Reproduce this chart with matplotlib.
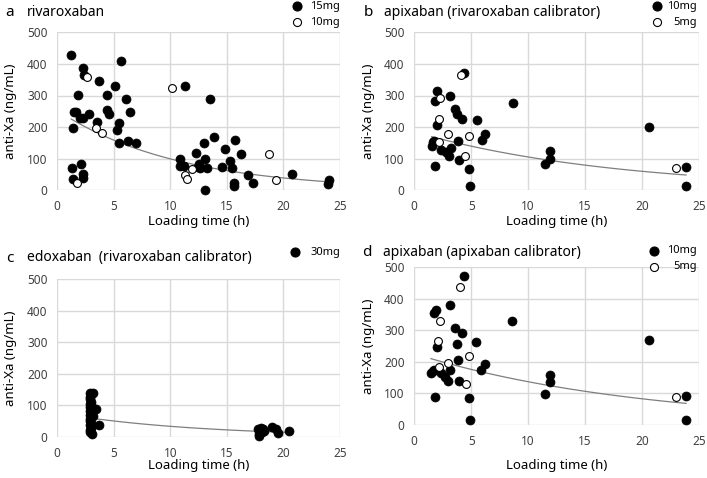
import numpy as np
import matplotlib
matplotlib.use("Agg")
import matplotlib.pyplot as plt
from matplotlib.lines import Line2D

plt.rcParams['font.family'] = ['Noto Sans', 'DejaVu Sans']

# panel a: rivaroxaban
a15_x = [1.24, 2.27, 2.36, 1.83, 1.5, 1.62, 1.36, 2.0, 2.3, 2.83, 3.54, 3.69, 4.36, 4.4, 4.54, 5.13,
         5.6, 6.04, 6.4, 5.43, 5.31, 5.43, 6.22, 6.96, 1.27, 1.36, 2.06, 2.24, 2.3, 11.26, 13.5, 10.85,
         10.82, 11.2, 12.3, 12.5, 12.4, 12.6, 13.0, 13.1, 13.24, 13.83, 13.1, 14.8, 14.6, 15.24, 15.42,
         15.7, 15.6, 15.6, 16.24, 16.83, 17.3, 20.72, 23.94, 24.0]
a15_y = [427, 387, 365, 302, 248, 248, 198, 228, 228, 240, 215, 345, 302, 255, 240, 330,
         410, 289, 248, 214, 191, 149, 156, 151, 71, 36, 84, 53, 40, 330, 290, 100,
         77, 78, 118, 84, 73, 72, 151, 100, 70, 170, 2, 132, 74, 94, 69,
         160, 22, 13, 116, 48, 22, 53, 21, 33]
a10_x = [2.6, 1.75, 3.45, 3.98, 10.1, 11.25, 11.45, 11.95, 18.75, 19.35]
a10_y = [357, 22, 198, 180, 325, 47, 35, 66, 116, 32]
a_trend = (253, 0.0934)  # y = A*exp(-k*t)

# panel b: apixaban (rivaroxaban calibrator)
b10_x = [1.52, 1.61, 1.7, 1.81, 1.81, 2.02, 2.02, 2.31, 2.75, 3.02, 3.1, 3.22, 3.57, 3.72, 3.84,
         3.9, 4.19, 4.36, 4.8, 4.89, 5.47, 5.91, 6.2, 8.64, 11.5, 11.94, 11.94, 20.64, 23.86, 23.86]
b10_y = [141, 152, 156, 78, 283, 314, 207, 127, 120, 108, 300, 135, 256, 240, 155,
         95, 225, 370, 66, 15, 224, 158, 179, 275, 82, 124, 99, 200, 75, 13]
b5_x = [2.26, 2.14, 2.2, 2.93, 4.1, 4.83, 4.48, 23.0]
b5_y = [291, 226, 153, 177, 365, 172, 110, 69]
b_trend = (185, 0.0562)

# panel c: edoxaban (rivaroxaban calibrator)
c30_x = [2.85, 2.95, 3.2, 2.9, 2.85, 3.0, 2.9, 2.95, 2.85, 3.0, 2.9, 2.95, 2.85, 3.0, 2.9, 2.85,
         2.95, 2.9, 3.0, 2.85, 2.9, 3.1, 3.42, 3.71, 3.15, 17.8, 17.9, 18.0, 18.1, 18.2, 17.85,
         18.3, 17.75, 18.95, 19.35, 19.5, 20.45]
c30_y = [138, 135, 138, 128, 120, 112, 105, 100, 95, 88, 82, 76, 70, 64, 58, 50,
         44, 38, 30, 22, 15, 10, 89, 39, 66, 8, 20, 30, 15, 25, 3,
         20, 26, 32, 24, 14, 19]
c_trend = (76, 0.081)

# panel d: apixaban (apixaban calibrator)
d10_x = [1.46, 1.61, 1.7, 1.81, 1.76, 1.93, 2.02, 2.31, 2.72, 2.96, 3.1, 3.13, 3.57, 3.78, 3.84,
         3.9, 4.16, 4.33, 4.8, 4.92, 5.44, 5.85, 6.21, 8.6, 11.45, 11.89, 11.89, 20.6, 23.86, 23.86]
d10_y = [164, 172, 175, 90, 354, 363, 247, 164, 153, 139, 380, 175, 307, 256, 206,
         140, 290, 471, 84, 16, 264, 175, 193, 328, 99, 157, 136, 269, 93, 17]
d5_x = [2.25, 2.1, 2.2, 2.93, 3.98, 4.83, 4.5, 22.98]
d5_y = [330, 266, 184, 197, 437, 218, 130, 88]
d_trend = (226, 0.0501)

W, H = 707, 478
fig = plt.figure(figsize=(W / 100, H / 100), dpi=100)

GRID = '#d9d9d9'
TICK = '#404040'


def make_axes(x0, x1, ytop, ybot, xlab_px, ylab_px):
    w, h = x1 - x0, ybot - ytop
    ax = fig.add_axes([x0 / W, 1 - ybot / H, w / W, h / H])
    ax.set_xlim(0, 25)
    ax.set_ylim(0, 500)
    ax.set_xticks(range(0, 26, 5))
    ax.set_yticks(range(0, 501, 100))
    ax.grid(True, color=GRID, lw=1)
    ax.set_axisbelow(True)
    for s in ax.spines.values():
        s.set_visible(False)
    ax.tick_params(length=0, labelsize=8.5, labelcolor=TICK, pad=7)
    ax.set_xlabel('Loading time (h)', fontsize=9.5, va='center')
    ax.set_ylabel('anti-Xa (ng/mL)', fontsize=9.5, va='center')
    # label centres given in pixels
    ax.xaxis.set_label_coords(0.5, (ybot - xlab_px) / h)
    ax.yaxis.set_label_coords((ylab_px - x0) / w, 0.5)
    return ax


def filled(ax, x, y):
    ax.scatter(x, y, s=42, c='black', edgecolors='black', linewidths=0.5, zorder=3, clip_on=False)


def hollow(ax, x, y):
    ax.scatter(x, y, s=32, c='white', edgecolors='black', linewidths=0.8, zorder=4, clip_on=False)


def trend(ax, xs, params):
    A, k = params
    t = np.linspace(min(xs), max(xs), 100)
    ax.plot(t, A * np.exp(-k * t), color='#7f7f7f', lw=0.9, zorder=2)


def legend_entry(xm, y, is_filled, label, xr):
    fig.add_artist(Line2D([xm / W], [1 - y / H], marker='o', ms=6.5 if is_filled else 5.8,
                          mfc='black' if is_filled else 'white', mec='black', mew=0.8,
                          ls='none', transform=fig.transFigure))
    fig.text(xr / W, 1 - y / H, label, ha='right', va='center', fontsize=8)


def panel_title(xl, xt, y, letter, text):
    fig.text(xl / W, 1 - y / H, letter, fontsize=11, fontweight='bold', va='center')
    fig.text(xt / W, 1 - y / H, text, fontsize=10, va='center')


# a
ax = make_axes(57.3, 340, 32.3, 190.3, 222, 11)
trend(ax, a15_x + a10_x, a_trend)
filled(ax, a15_x, a15_y)
hollow(ax, a10_x, a10_y)
panel_title(5, 27, 12, 'a', 'rivaroxaban')
legend_entry(297, 6, True, '15mg', 340)
legend_entry(297, 22, False, '10mg', 340)

# b
ax = make_axes(414.3, 699, 32.3, 190.3, 222, 368)
trend(ax, b10_x + b5_x, b_trend)
filled(ax, b10_x, b10_y)
hollow(ax, b5_x, b5_y)
panel_title(364, 384, 13, 'b', 'apixaban (rivaroxaban calibrator)')
legend_entry(657, 6, True, '10mg', 697)
legend_entry(657, 22, False, '5mg', 697)

# c
ax = make_axes(57.3, 340, 279, 437, 466, 11)
trend(ax, c30_x, c_trend)
filled(ax, c30_x, c30_y)
panel_title(6, 27, 258, 'c', 'edoxaban  (rivaroxaban calibrator)')
legend_entry(295, 252, True, '30mg', 340)

# d
ax = make_axes(414.3, 699, 267, 425, 466, 368)
trend(ax, d10_x + d5_x, d_trend)
filled(ax, d10_x, d10_y)
hollow(ax, d5_x, d5_y)
panel_title(362, 383, 253, 'd', 'apixaban (apixaban calibrator)')
legend_entry(654, 251, True, '10mg', 697)
legend_entry(654, 267, False, '5mg', 697)

fig.savefig('out.png', dpi=100)
